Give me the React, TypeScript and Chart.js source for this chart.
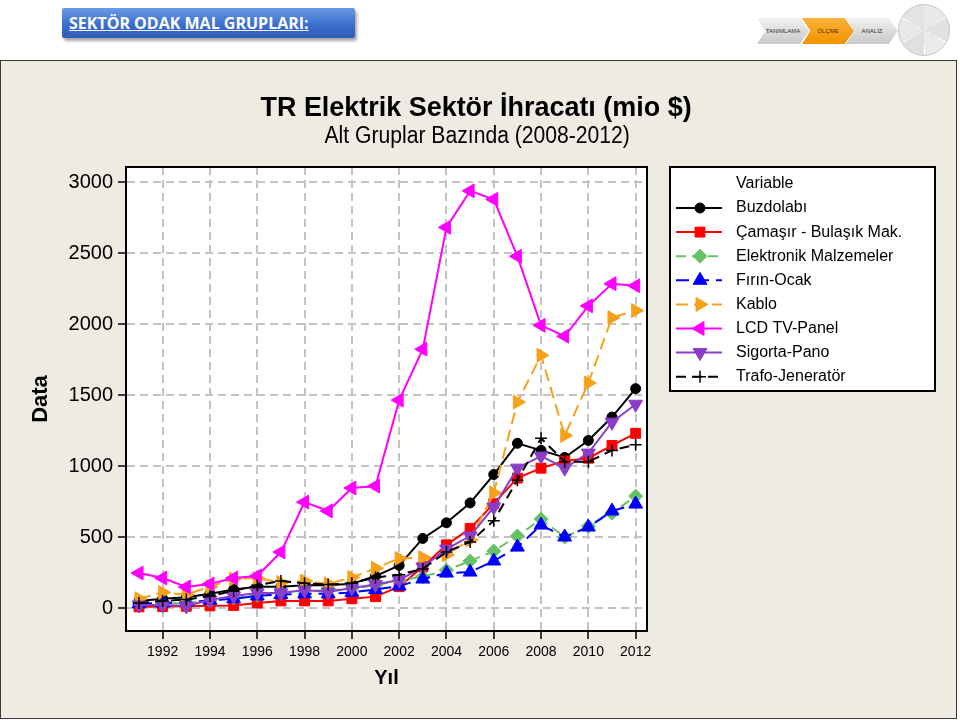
import React, { useEffect, useLayoutEffect, useRef, useState } from "react";
import { Chart, registerables } from "chart.js";
import { drawPoint } from "chart.js/helpers";

Chart.register(...registerables);

// ---- DATA ----
const years = [1991, 1992, 1993, 1994, 1995, 1996, 1997, 1998, 1999, 2000, 2001, 2002, 2003, 2004, 2005, 2006, 2007, 2008, 2009, 2010, 2011, 2012];
const xTickYears = [1992, 1994, 1996, 1998, 2000, 2002, 2004, 2006, 2008, 2010, 2012];
const yTickValues = [0, 500, 1000, 1500, 2000, 2500, 3000];

const buzdolabi = [50, 65, 75, 100, 130, 150, 150, 160, 160, 170, 225, 300, 490, 600, 740, 940, 1160, 1110, 1060, 1180, 1345, 1545];
const camasir = [8, 10, 12, 15, 18, 35, 50, 50, 50, 65, 80, 150, 290, 445, 560, 735, 915, 985, 1035, 1055, 1145, 1230];
const elektronik = [25, 30, 35, 50, 70, 90, 110, 120, 125, 135, 160, 195, 220, 267, 331, 401, 507, 626, 500, 575, 668, 788];
const firin = [30, 35, 40, 55, 65, 85, 95, 100, 100, 110, 130, 155, 204, 246, 253, 331, 429, 584, 500, 570, 683, 732];
const kablo = [65, 110, 95, 150, 205, 210, 180, 190, 170, 215, 280, 350, 355, 375, 480, 810, 1450, 1780, 1215, 1585, 2045, 2095];
const lcd = [246, 211, 148, 169, 211, 225, 394, 746, 683, 845, 859, 1464, 1823, 2681, 2938, 2878, 2477, 1991, 1914, 2128, 2284, 2270];
const sigorta = [21, 21, 14, 56, 84, 106, 106, 127, 113, 141, 165, 197, 288, 415, 507, 711, 985, 1070, 985, 1091, 1309, 1435];
const trafo = [35, 50, 60, 85, 120, 160, 190, 175, 165, 175, 215, 235, 275, 395, 465, 615, 900, 1195, 1030, 1030, 1110, 1150];

const seriesNames = [
  "Buzdolabı",
  "Çamaşır - Bulaşık Mak.",
  "Elektronik Malzemeler",
  "Fırın-Ocak",
  "Kablo",
  "LCD TV-Panel",
  "Sigorta-Pano",
  "Trafo-Jeneratör",
];
const seriesValues = [buzdolabi, camasir, elektronik, firin, kablo, lcd, sigorta, trafo];

const titleText = "TR Elektrik Sektör İhracatı (mio $)";
const subtitleText = "Alt Gruplar Bazında (2008-2012)";
const legendTitle = "Variable";
const xTitle = "Yıl";
const yTitle = "Data";
const headerText = "SEKTÖR ODAK MAL GRUPLARI:";
const steps = ["TANIMLAMA", "ÖLÇME", "ANALİZ"];

// ---- STYLES ----
const seriesStyles = [
  { color: "#000000", pointStyle: "circle", radius: 5, rotation: 0, dash: [] as number[], pbw: 1 },
  { color: "#ff0000", pointStyle: "rect", radius: 7, rotation: 0, dash: [] as number[], pbw: 1 },
  { color: "#66c266", pointStyle: "rectRot", radius: 7, rotation: 0, dash: [10, 6], pbw: 1 },
  { color: "#0000ff", pointStyle: "triangle", radius: 8, rotation: 0, dash: [13, 7], pbw: 1 },
  { color: "#f7a11a", pointStyle: "triangle", radius: 8, rotation: 90, dash: [12, 6], pbw: 1 },
  { color: "#ff00ff", pointStyle: "triangle", radius: 8, rotation: -90, dash: [] as number[], pbw: 1 },
  { color: "#8a3dc8", pointStyle: "triangle", radius: 8, rotation: 180, dash: [] as number[], pbw: 1 },
  { color: "#000000", pointStyle: "cross", radius: 6, rotation: 0, dash: [10, 6], pbw: 1.5 },
];

const FONT = '"Liberation Sans", Arial, sans-serif';

const framePlugin = {
  id: "frameAndLegend",
  beforeDraw(chart: any) {
    const { ctx, chartArea } = chart;
    const { left, top, right, bottom } = chartArea;
    ctx.save();
    ctx.fillStyle = "#ffffff";
    ctx.fillRect(left, top, right - left, bottom - top);
    ctx.restore();
  },
  afterDraw(chart: any) {
    const { ctx, chartArea } = chart;
    const { left, top, right, bottom } = chartArea;
    ctx.save();
    ctx.setLineDash([]);
    ctx.strokeStyle = "#000";
    ctx.lineWidth = 2;
    ctx.strokeRect(left, top, right - left, bottom - top);

    // legend box
    const lx = 670, ly = 107, lw = 265, lh = 224;
    ctx.fillStyle = "#ffffff";
    ctx.fillRect(lx, ly, lw, lh);
    ctx.strokeRect(lx, ly, lw, lh);
    ctx.fillStyle = "#000";
    ctx.font = `16px ${FONT}`;
    ctx.textBaseline = "middle";
    ctx.textAlign = "left";
    ctx.fillText(legendTitle, 736, 124);
    seriesNames.forEach((name, i) => {
      const st = seriesStyles[i];
      const y = 148 + i * 24.1;
      ctx.save();
      ctx.strokeStyle = st.color;
      ctx.lineWidth = 2;
      ctx.setLineDash(st.dash);
      ctx.beginPath();
      ctx.moveTo(676, y);
      ctx.lineTo(722, y);
      ctx.stroke();
      ctx.setLineDash([]);
      ctx.fillStyle = st.color;
      ctx.strokeStyle = st.color;
      ctx.lineWidth = st.pbw;
      drawPoint(ctx, { pointStyle: st.pointStyle as any, rotation: st.rotation, radius: st.radius, borderWidth: st.pbw }, 700, y);
      ctx.restore();
      ctx.fillStyle = "#000";
      ctx.fillText(name, 736, y);
    });
    ctx.restore();
  },
};

function ChartPanel() {
  const ref = useRef<HTMLCanvasElement | null>(null);
  useEffect(() => {
    if (!ref.current) return;
    const datasets = seriesNames.map((name, i) => {
      const st = seriesStyles[i];
      return {
        label: name,
        data: years.map((yr, j) => ({ x: yr, y: seriesValues[i][j] })),
        borderColor: st.color,
        backgroundColor: st.color,
        borderWidth: 2,
        borderDash: st.dash,
        pointStyle: st.pointStyle,
        pointRadius: st.radius,
        pointRotation: st.rotation,
        pointBackgroundColor: st.color,
        pointBorderColor: st.color,
        pointBorderWidth: st.pbw,
        tension: 0,
        fill: false,
        order: -i,
      };
    });
    const chart = new Chart(ref.current, {
      type: "line",
      data: { datasets: datasets as any },
      plugins: [framePlugin],
      options: {
        animation: false,
        responsive: false,
        devicePixelRatio: 1,
        layout: { padding: { left: 20, right: 310, top: 107, bottom: 0 } },
        plugins: {
          legend: { display: false },
          tooltip: { enabled: false },
          title: { display: false },
          subtitle: { display: false },
        },
        scales: {
          x: {
            type: "linear",
            min: 1990.45,
            max: 2012.48,
            afterFit(scale: any) {
              scale.height = 87;
            },
            afterBuildTicks(scale: any) {
              scale.ticks = xTickYears.map((v) => ({ value: v }));
            },
            ticks: {
              autoSkip: false,
              maxRotation: 0,
              color: "#000",
              padding: 5,
              font: { family: FONT, size: 14 },
              callback: (v: any) => String(v),
            },
            grid: {
              color: "#c4c4c4",
              lineWidth: 2,
              tickLength: 8,
              tickColor: "#000",
              tickWidth: 1.5,
              tickBorderDash: [],
            },
            border: { display: true, color: "#000", width: 2, dash: [8, 5] },
            title: {
              display: true,
              text: xTitle,
              color: "#000",
              font: { family: FONT, size: 20, weight: "bold", lineHeight: 1.2 },
              padding: { top: 0, bottom: 28 },
            },
          },
          y: {
            type: "linear",
            min: -162,
            max: 3106,
            afterFit(scale: any) {
              scale.width = 106;
            },
            afterBuildTicks(scale: any) {
              scale.ticks = yTickValues.map((v) => ({ value: v }));
            },
            ticks: {
              color: "#000",
              padding: 5,
              font: { family: FONT, size: 20 },
              callback: (v: any) => String(v),
            },
            grid: {
              color: "#c4c4c4",
              lineWidth: 2,
              tickLength: 8,
              tickColor: "#000",
              tickWidth: 1.5,
              tickBorderDash: [],
            },
            border: { display: true, color: "#000", width: 2, dash: [8, 5] },
            title: {
              display: true,
              text: yTitle,
              color: "#000",
              font: { family: FONT, size: 22, weight: "bold", lineHeight: 1.2 },
              padding: { top: 8, bottom: 0 },
            },
          },
        },
      } as any,
    });
    return () => chart.destroy();
  }, []);
  return (
    <canvas
      ref={ref}
      width={957}
      height={658}
      style={{ position: "absolute", left: 0, top: 60, width: 957, height: 658 }}
    />
  );
}

// text squeezed horizontally to a target width, centred on cx / cy
function FitText(props: { text: string; cx: number; cy: number; width: number; size: number; bold?: boolean }) {
  const ref = useRef<HTMLSpanElement | null>(null);
  const [scale, setScale] = useState(1);
  useLayoutEffect(() => {
    if (ref.current) {
      const w = ref.current.offsetWidth;
      if (w > 0) setScale(props.width / w);
    }
  }, [props.text, props.width]);
  return (
    <div
      style={{
        position: "absolute",
        left: props.cx - 400,
        top: props.cy - props.size * 0.6,
        width: 800,
        height: props.size * 1.2,
        display: "flex",
        justifyContent: "center",
        alignItems: "center",
        zIndex: 2,
      }}
    >
      <span
        ref={ref}
        style={{
          display: "inline-block",
          whiteSpace: "nowrap",
          fontFamily: FONT,
          fontSize: props.size,
          fontWeight: props.bold ? 700 : 400,
          color: "#000",
          lineHeight: 1.2,
          transform: `scaleX(${scale})`,
          transformOrigin: "center",
        }}
      >
        {props.text}
      </span>
    </div>
  );
}

function Header() {
  const chevron = "polygon(0 0, 82% 0, 100% 50%, 82% 100%, 0 100%, 16% 50%)";
  const stepX = [757, 802, 846];
  return (
    <>
      <div
        style={{
          position: "absolute",
          left: 62,
          top: 8,
          width: 293,
          height: 30,
          background: "linear-gradient(#6b9be6, #3a6fcd 55%, #2d5cb5)",
          boxShadow: "2px 3px 3px rgba(0,0,0,0.35)",
          borderRadius: 2,
          display: "flex",
          alignItems: "center",
          paddingLeft: 7,
          boxSizing: "border-box",
        }}
      >
        <span
          style={{
            color: "#fff",
            fontFamily: '"Open Sans", "Liberation Sans", sans-serif',
            fontWeight: 700,
            fontSize: 16,
            textDecoration: "underline",
          }}
        >
          {headerText}
        </span>
      </div>
      {steps.map((s, i) => (
        <div
          key={s}
          style={{
            position: "absolute",
            left: stepX[i],
            top: 18,
            width: 52,
            height: 26,
            clipPath: chevron,
            background: i === 1 ? "linear-gradient(#f9b23a, #f29200)" : "linear-gradient(#f2f2f2, #c8c8c8)",
            display: "flex",
            alignItems: "center",
            justifyContent: "center",
            fontFamily: FONT,
            fontSize: 6,
            color: i === 1 ? "#5a2d00" : "#333",
          }}
        >
          {s}
        </div>
      ))}
      <div
        style={{
          position: "absolute",
          left: 898,
          top: 4,
          width: 50,
          height: 50,
          borderRadius: "50%",
          background:
            "conic-gradient(#e9e9e9 0deg 58deg, #fff 58deg 60deg, #e2e2e2 60deg 118deg, #fff 118deg 120deg, #ebebeb 120deg 178deg, #fff 178deg 180deg, #e0e0e0 180deg 238deg, #fff 238deg 240deg, #e8e8e8 240deg 298deg, #fff 298deg 300deg, #e3e3e3 300deg 360deg)",
          border: "1px solid #c8c8c8",
        }}
      />
    </>
  );
}

export default function App() {
  return (
    <div style={{ position: "fixed", left: 0, top: 0, width: 960, height: 720, background: "#ffffff", overflow: "hidden" }}>
      <Header />
      <div
        style={{
          position: "absolute",
          left: 0,
          top: 60,
          width: 957,
          height: 659,
          background: "#eeebe2",
          border: "1.5px solid #3a3a3a",
          boxSizing: "border-box",
        }}
      />
      <ChartPanel />
      <FitText text={titleText} cx={476.5} cy={107} width={431} size={27} bold />
      <FitText text={subtitleText} cx={477.5} cy={136} width={305} size={23} />
    </div>
  );
}
